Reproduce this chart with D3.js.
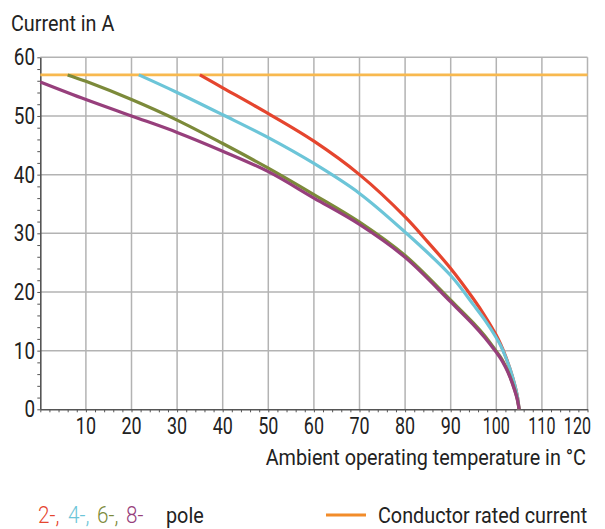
<!DOCTYPE html>
<html><head><meta charset="utf-8">
<script src="https://cdn.jsdelivr.net/npm/d3@7"></script>
<style>
html,body{margin:0;padding:0;background:#fff;}
svg{display:block;}
text{font-family:Roboto,"Liberation Sans",sans-serif;fill:#222;}
</style></head>
<body>
<svg id="c" width="605" height="529"></svg>
<script>
// ---- data ----
const xTicks = [10,20,30,40,50,60,70,80,90,100,110,120];
const yTicks = [0,10,20,30,40,50,60];
const ratedCurrent = 57;
const ratedX = [0,120];

const pole2 = [[35,57],[40,54.8],[50,50.4],[60,45.7],[70,40.0],[80,32.8],[85,28.5],[90,24.0],[95,18.8],[97.5,15.9],[100,12.6],[101,11.0],[102,9.1],[103,6.9],[104,4.3],[104.6,2.3],[105,0]];
const pole4 = [[21.6,57],[30,54.0],[40,50.2],[50,46.3],[60,41.9],[70,36.8],[80,30.2],[90,22.8],[95,17.8],[97.5,15.2],[100,12.2],[101,10.8],[102,9.0],[103,6.9],[104,4.3],[104.6,2.3],[105,0]];
const pole6 = [[6,57],[10,55.9],[20,52.8],[30,49.3],[40,45.3],[50,41.1],[60,36.6],[70,31.9],[80,26.2],[90,18.6],[95,14.7],[97.5,12.5],[100,9.9],[101,8.8],[102,7.4],[103,5.6],[104,3.4],[104.6,1.75],[105,0]];
const pole8 = [[0,55.8],[10,52.8],[20,50.0],[30,47.2],[40,44.0],[50,40.5],[60,36.0],[70,31.5],[80,25.9],[90,18.3],[95,14.4],[97.5,12.2],[100,9.7],[101,8.6],[102,7.2],[103,5.5],[104,3.3],[104.6,1.7],[105,0]];

const seriesNames = ["2-,","4-,","6-,","8-"];
const seriesColors = ["#e5452e","#6cc5d8","#7c8a3a","#973f7c"];
const seriesData = [pole2,pole4,pole6,pole8];
const legendX = [38,68,97,126];

// ---- chart ----
const svg = d3.select("#c");
const x = d3.scaleLinear().domain([0,120]).range([40.3,587.5]);
const y = d3.scaleLinear().domain([0,60]).range([409.3,57.3]);

// grid
const g = svg.append("g");
g.selectAll("line.v").data(xTicks).join("line")
  .attr("x1",d=>x(d)).attr("x2",d=>x(d)).attr("y1",y(0)).attr("y2",y(60))
  .attr("stroke","#b3b3b3").attr("stroke-width",1.5);
g.selectAll("line.h").data(yTicks.filter(d=>d>0)).join("line")
  .attr("x1",x(0)).attr("x2",x(120)).attr("y1",d=>y(d)).attr("y2",d=>y(d))
  .attr("stroke","#b3b3b3").attr("stroke-width",1.5);

// axes with minor ticks
const xMinor = d3.range(0,121,2);
const yMinor = d3.range(0,61,2);
const xAxis = svg.append("g").attr("transform",`translate(0,${y(0)})`)
  .call(d3.axisBottom(x).tickValues(xMinor).tickSize(3).tickFormat("").tickSizeOuter(0));
xAxis.select(".domain").attr("stroke","#555").attr("stroke-width",1.6);
xAxis.selectAll(".tick line").attr("stroke","#555").attr("stroke-width",1);
const yAxis = svg.append("g").attr("transform",`translate(${x(0)},0)`)
  .call(d3.axisLeft(y).tickValues(yMinor).tickSize(3).tickFormat("").tickSizeOuter(0));
yAxis.select(".domain").attr("stroke","#555").attr("stroke-width",1.6);
yAxis.selectAll(".tick line").attr("stroke","#555").attr("stroke-width",1);

// tick labels (condensed look)
svg.append("g").selectAll("text").data(xTicks).join("text")
  .attr("transform",d=>`translate(${d===120 ? 591 : x(d)},433.5) scale(${d>=100?0.7:0.78},1)`)
  .attr("text-anchor",d=>d===120 ? "end" : "middle")
  .attr("font-size",23).text(d=>d);
svg.append("g").selectAll("text").data(yTicks).join("text")
  .attr("transform",d=>`translate(35,${y(d)+8}) scale(0.82,1)`)
  .attr("text-anchor","end")
  .attr("font-size",23).text(d=>d);

// rated current line
svg.append("line").attr("x1",x(ratedX[0])).attr("x2",x(ratedX[1]))
  .attr("y1",y(ratedCurrent)).attr("y2",y(ratedCurrent))
  .attr("stroke","#f8b94f").attr("stroke-width",2.6);

// curves
const line = d3.line().x(d=>x(d[0])).y(d=>y(d[1])).curve(d3.curveCatmullRom.alpha(0.5));
svg.append("g").selectAll("path").data(seriesData).join("path")
  .attr("d",line).attr("fill","none")
  .attr("stroke",(d,i)=>seriesColors[i]).attr("stroke-width",3.2)
  .attr("stroke-linecap","butt");

// titles
svg.append("text").attr("transform","translate(11,30.5) scale(0.9,1)").attr("font-size",22).text("Current in A");
svg.append("text").attr("transform","translate(586,465) scale(0.9,1)").attr("text-anchor","end").attr("font-size",22)
  .text("Ambient operating temperature in °C");

// legend
svg.append("g").selectAll("text").data(seriesNames).join("text")
  .attr("transform",(d,i)=>`translate(${legendX[i]},523) scale(0.9,1)`)
  .attr("font-size",23).attr("font-weight",300)
  .style("fill",(d,i)=>seriesColors[i]).text(d=>d);
svg.append("text").attr("transform","translate(166,523) scale(0.9,1)").attr("font-size",22).text("pole");
svg.append("line").attr("x1",326).attr("x2",366).attr("y1",515).attr("y2",515)
  .attr("stroke","#f28c2a").attr("stroke-width",3);
svg.append("text").attr("transform","translate(378,523) scale(0.9,1)").attr("font-size",22).text("Conductor rated current");
</script>
</body></html>
